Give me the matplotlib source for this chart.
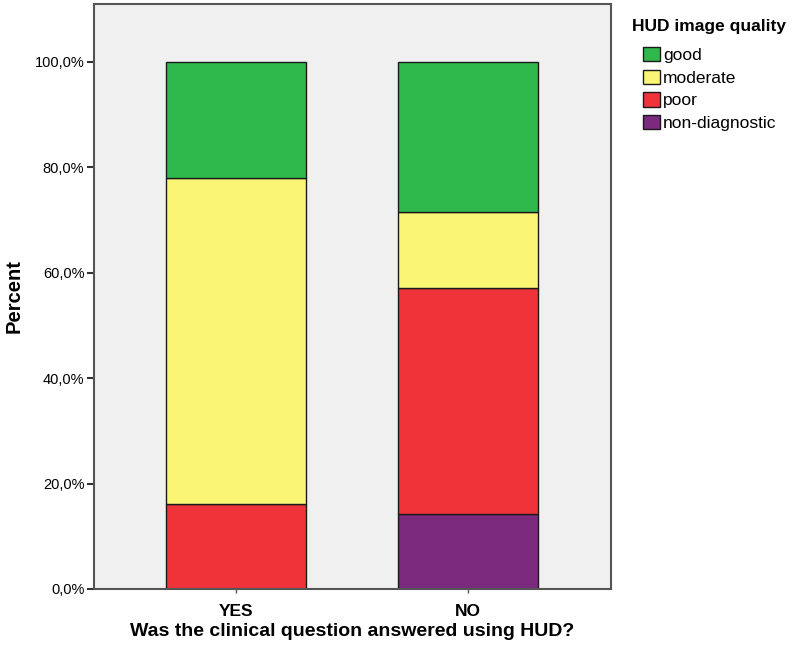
import matplotlib
matplotlib.use("Agg")
import matplotlib.pyplot as plt
import numpy as np

plt.rcParams["font.family"] = ["Liberation Sans", "DejaVu Sans"]

# answered the clinical question using HUD?
groups = ["YES", "NO"]
# percent per image quality, stacked bottom -> top
non_diagnostic = [0.0, 14.3]
poor = [16.1, 42.9]
moderate = [61.8, 14.3]
good = [22.1, 28.5]

series = [
    ("non-diagnostic", non_diagnostic, "#7B2A7E"),
    ("poor", poor, "#EF3338"),
    ("moderate", moderate, "#FAF574"),
    ("good", good, "#2FB84B"),
]

fig = plt.figure(figsize=(7.92, 6.54), dpi=100)
ax = fig.add_axes([94 / 792, 65 / 654, 517 / 792, 585 / 654])
ax.set_facecolor("#F0F0F0")

x = np.arange(len(groups))
bottom = np.zeros(len(groups))
handles = {}
for name, vals, col in series:
    vals = np.asarray(vals)
    bars = ax.bar(x, vals, 0.6, bottom=bottom, color=col, edgecolor="#1a1a1a",
                  linewidth=1.0, label=name)
    handles[name] = bars
    bottom += vals

ax.set_xlim(-0.612, 1.616)
ax.set_ylim(0, 111)
ax.set_yticks(np.arange(0, 101, 20))
ax.set_yticklabels([f"{v:.1f}%".replace(".", ",") for v in np.arange(0, 101, 20)])
ax.set_xticks(x, groups)
ax.tick_params(axis="y", length=5, width=1.5, color="#333333", labelsize=10.5, pad=2)
ax.tick_params(axis="x", length=3, width=1.0, color="#555555", labelsize=12.5, pad=8)
for lbl in ax.get_xticklabels():
    lbl.set_fontweight("bold")
for sp in ax.spines.values():
    sp.set_color("#555555")
    sp.set_linewidth(1.5)

ax.set_ylabel("Percent", fontsize=14.5, fontweight="bold", labelpad=8)
ax.set_xlabel("Was the clinical question answered using HUD?", fontsize=14,
              fontweight="bold", labelpad=3)

# legend title set separately so it sits left of the swatches, like SPSS
fig.text(632 / 792, 1 - 26 / 654, "HUD image quality", fontsize=12.5,
         fontweight="bold", va="center", ha="left")
order = ["good", "moderate", "poor", "non-diagnostic"]
fig.legend([handles[k] for k in order], order, loc="upper left",
           bbox_to_anchor=(629 / 792, 1 - 33 / 654), frameon=False, fontsize=12.5,
           handlelength=1.0, handleheight=0.9, handletextpad=0.15, labelspacing=0.37,
           borderpad=0.3)

fig.savefig("out.png", dpi=100)
